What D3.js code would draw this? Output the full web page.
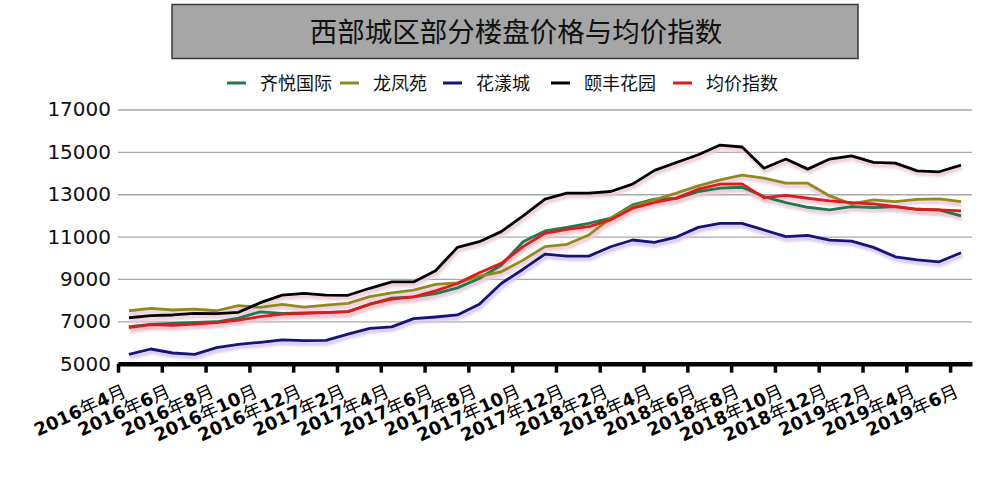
<!DOCTYPE html>
<html><head><meta charset="utf-8">
<script src="https://cdn.jsdelivr.net/npm/d3@7/dist/d3.min.js"></script>
<style>
html,body{margin:0;padding:0;background:#fff;}
svg{display:block;}
</style></head>
<body><svg id="c" width="1006" height="497"></svg>
<script>
const title = "西部城区部分楼盘价格与均价指数";
const months = ["2016-04","2016-05","2016-06","2016-07","2016-08","2016-09","2016-10","2016-11","2016-12",
"2017-01","2017-02","2017-03","2017-04","2017-05","2017-06","2017-07","2017-08","2017-09","2017-10","2017-11","2017-12",
"2018-01","2018-02","2018-03","2018-04","2018-05","2018-06","2018-07","2018-08","2018-09","2018-10","2018-11","2018-12",
"2019-01","2019-02","2019-03","2019-04","2019-05","2019-06"];
const tickLabels = ["2016年4月","2016年6月","2016年8月","2016年10月","2016年12月","2017年2月","2017年4月","2017年6月",
"2017年8月","2017年10月","2017年12月","2018年2月","2018年4月","2018年6月","2018年8月","2018年10月","2018年12月",
"2019年2月","2019年4月","2019年6月"];
const yTicks = [5000,7000,9000,11000,13000,15000,17000];
const seriesNames = ["齐悦国际","龙凤苑","花漾城","颐丰花园","均价指数"];
const qiyue = [6750,6860,6900,6950,6980,7150,7450,7380,7400,7420,7460,7800,8100,8150,8310,8580,9020,9650,10760,11265,11440,11630,11870,12500,12770,12800,13125,13285,13330,12890,12605,12385,12260,12415,12370,12415,12290,12260,11975];
const longfeng = [7500,7615,7535,7580,7500,7740,7660,7800,7675,7770,7850,8165,8340,8470,8740,8815,9130,9340,9890,10525,10635,11075,11866,12420,12740,13050,13395,13680,13900,13760,13520,13520,12920,12540,12730,12650,12760,12780,12650];
const huayang = [5444,5694,5505,5444,5755,5915,6010,6120,6085,6100,6400,6670,6740,7126,7205,7300,7805,8785,9460,10175,10080,10080,10520,10840,10725,10980,11435,11625,11625,11310,10995,11055,10835,10790,10490,10045,9903,9810,10235];
const yifeng = [7170,7265,7300,7380,7360,7425,7880,8240,8320,8240,8230,8560,8865,8862,9385,10490,10760,11235,11975,12765,13050,13050,13130,13480,14125,14500,14865,15320,15230,14230,14660,14185,14660,14815,14500,14470,14105,14060,14375];
const junjia = [6700,6840,6810,6870,6935,7060,7220,7345,7380,7410,7455,7820,8050,8153,8440,8785,9290,9735,10525,11155,11345,11470,11790,12340,12610,12815,13237,13475,13490,12840,12950,12810,12685,12605,12540,12415,12290,12260,12210];
const colors = ["#1f7a4d","#8f8a1e","#14147a","#000000","#e01b1b"];

const series = [qiyue,longfeng,huayang,yifeng,junjia];
const svg = d3.select("#c");
const L = 118, R = 972, T = 109.5, B = 363.7;
const x = d3.scaleLinear().domain([0, months.length]).range([L, R]);
const y = d3.scaleLinear().domain([5000, 17000]).range([B, T]);

// title box
svg.append("rect").attr("x",172).attr("y",4.5).attr("width",686).attr("height",54)
  .attr("fill","#a6a6a6").attr("stroke","#3a3a3a").attr("stroke-width",1.5);
svg.append("text").attr("x",516).attr("y",41.5).attr("text-anchor","middle")
  .attr("font-family","'Noto Sans CJK SC'").attr("font-size",27.5).attr("fill","#111").text(title);

// legend
const legX = [227,340,443,551,673];
const leg = svg.append("g");
seriesNames.forEach((n,i)=>{
  leg.append("line").attr("x1",legX[i]).attr("x2",legX[i]+19).attr("y1",83).attr("y2",83)
    .attr("stroke",colors[i]).attr("stroke-width",3);
  leg.append("text").attr("x",legX[i]+33).attr("y",90).attr("font-family","'Noto Sans CJK SC'")
    .attr("font-size",18).attr("fill","#111").text(n);
});

// gridlines
const grid = svg.append("g").attr("transform",`translate(${L},0)`)
  .call(d3.axisLeft(y).tickValues(yTicks.slice(1)).tickSize(-(R-L)).tickFormat(""));
grid.select(".domain").remove();
grid.selectAll("line").attr("stroke","#a8a8a8").attr("stroke-width",1.3);

// y labels
const ya = svg.append("g").attr("transform",`translate(${L},0)`)
  .call(d3.axisLeft(y).tickValues(yTicks).tickSize(0).tickPadding(7).tickFormat(d3.format("d")));
ya.select(".domain").remove();
ya.selectAll("text").attr("font-family","'DejaVu Sans'").attr("font-size",20).attr("fill","#111");

// shadow filter
const defs = svg.append("defs");
const f = defs.append("filter").attr("id","sh").attr("x","-5%").attr("y","-20%").attr("width","110%").attr("height","140%");
f.append("feGaussianBlur").attr("stdDeviation",1.2);

const line = d3.line().x((d,i)=>x(i+0.5)).y(d=>y(d));
const shadowCol = ["#e8c6da","#ecc8dc","#d9c4ee","#ecc8dc","#f2c4cc"];
series.forEach((s,i)=>{
  svg.append("path").datum(s).attr("d",line).attr("fill","none")
    .attr("stroke",shadowCol[i]).attr("stroke-width",4.5).attr("opacity",0.85)
    .attr("transform","translate(1,3)").attr("filter","url(#sh)");
});
series.forEach((s,i)=>{
  svg.append("path").datum(s).attr("d",line).attr("fill","none")
    .attr("stroke",colors[i]).attr("stroke-width",2.8).attr("stroke-linejoin","round");
});

// x axis
const xa = svg.append("g").attr("transform",`translate(0,${B})`)
  .call(d3.axisBottom(x).tickValues(d3.range(0, months.length, 2)).tickSize(9).tickSizeOuter(0)
    .tickFormat((d,i)=>tickLabels[i]));
xa.select(".domain").attr("stroke","#000").attr("stroke-width",4.5);
xa.selectAll(".tick line").attr("stroke","#000").attr("stroke-width",3.5);
xa.selectAll(".tick text").each(function(){
  const t = d3.select(this);
  const s = t.text();
  t.text(null);
  s.split(/([年月])/).filter(p=>p.length).forEach(p=>{
    const cjk = /[年月]/.test(p);
    t.append("tspan").text(p)
      .attr("font-family", cjk ? "'Noto Sans CJK SC'" : "'DejaVu Sans'")
      .attr("font-weight", cjk ? "normal" : "bold");
  });
}).attr("font-size",18).attr("fill","#000").attr("text-anchor","end").attr("dy",0).attr("y",0)
  .attr("transform","translate(9,32) rotate(-24.5)");
</script></body></html>
